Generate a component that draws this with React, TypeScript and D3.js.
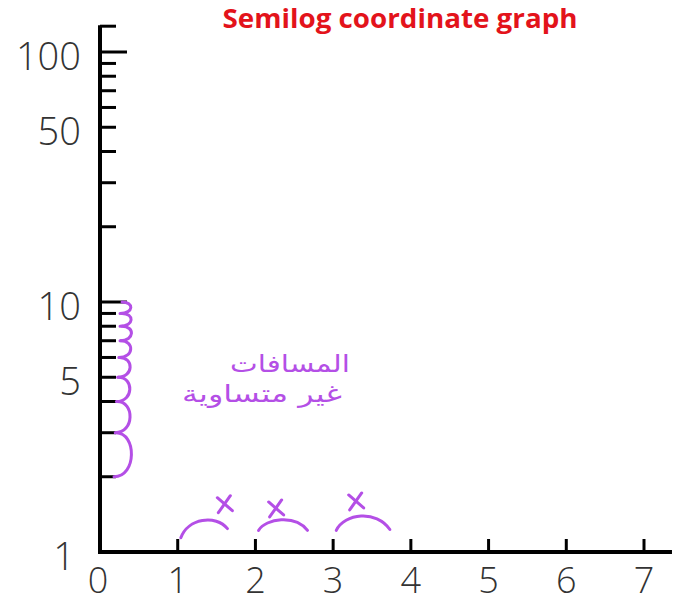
import React from "react";
import * as d3 from "d3";

const titleText = "Semilog coordinate graph";
const xLabelValues = [0, 1, 2, 3, 4, 5, 6, 7];
const xTickValues = [1, 2, 3, 4, 5, 6, 7];
const yLabelValues = [1, 5, 10, 50, 100];
const yMajorTicks = [10, 100];
const yMinorTicks = [2, 3, 4, 5, 6, 7, 8, 9, 20, 30, 40, 50, 60, 70, 80, 90];
const xAxisEnd = 7.36;
const yAxisEnd = 128;
// braces drawn next to the y axis between successive ticks 2..10
const braceStops = [2, 3, 4, 5, 6, 7, 8, 9, 10];
// arcs above the x axis: [start x, end x, start y, peak y, end y]
const xArcs = [
  [1.04, 1.64, 1.14, 1.34, 1.24],
  [2.04, 2.67, 1.22, 1.34, 1.22],
  [3.04, 3.73, 1.22, 1.4, 1.23],
];
// cross marks above the arcs: [x, y]
const xMarks = [
  [1.6, 1.56],
  [2.26, 1.5],
  [3.29, 1.6],
];
const noteLine1 = "المسافات";
const noteLine2 = "غير متساوية";

const W = 680;
const H = 604;

export default function App() {
  const x = d3.scaleLinear().domain([0, 7]).range([100, 644]);
  const y = d3.scaleLog().domain([1, 100]).range([552, 52]);
  const purple = "#b44fe6";
  const labelFont = "'Open Sans', 'DejaVu Sans', sans-serif";

  const bracePaths: string[] = [];
  for (let i = 0; i < braceStops.length - 1; i++) {
    const y0 = y(braceStops[i]);
    const y1 = y(braceStops[i + 1]);
    const dy = y0 - y1;
    const x0 = 114 + Math.min(6, i * 1.2);
    const b = 11 + dy * 0.27;
    const p = d3.path();
    p.moveTo(x0, y0);
    p.bezierCurveTo(x0 + b, y0, x0 + b, y1, x0 + 2, y1);
    bracePaths.push(p.toString());
  }

  return (
    <svg
      width={W}
      height={H}
      style={{ position: "absolute", left: 0, top: 0, background: "#fff" }}
    >
      <rect width={W} height={H} fill="#fff" />
      <text
        x={400}
        y={28}
        textAnchor="middle"
        fontFamily="'Open Sans', sans-serif"
        fontWeight={700}
        fontSize={27}
        fill="#e3131b"
        textLength={355}
        lengthAdjust="spacingAndGlyphs"
      >
        {titleText}
      </text>

      {/* axes */}
      <line x1={x(0)} x2={x(xAxisEnd)} y1={y(1)} y2={y(1)} stroke="#000" strokeWidth={4} />
      <line x1={x(0)} x2={x(0)} y1={y(1) + 2} y2={y(yAxisEnd)} stroke="#000" strokeWidth={4} />
      <line x1={x(0)} x2={x(0) + 16} y1={y(yAxisEnd) + 1} y2={y(yAxisEnd) + 1} stroke="#000" strokeWidth={3} />

      {xTickValues.map((v) => (
        <line key={"xt" + v} x1={x(v)} x2={x(v)} y1={y(1)} y2={y(1) - 13} stroke="#000" strokeWidth={3} />
      ))}
      {yMinorTicks.map((v) => (
        <line key={"ym" + v} x1={x(0)} x2={x(0) + 16} y1={y(v)} y2={y(v)} stroke="#000" strokeWidth={3} />
      ))}
      {yMajorTicks.map((v) => (
        <line key={"yM" + v} x1={x(0)} x2={x(0) + 27} y1={y(v)} y2={y(v)} stroke="#000" strokeWidth={3} />
      ))}

      {xLabelValues.map((v) => (
        <text
          key={"xl" + v}
          x={x(v) - (v === 0 ? 2 : 0)}
          y={593}
          textAnchor="middle"
          fontFamily={labelFont}
          fontWeight={300}
          fontSize={36}
          fill="#333"
        >
          {v}
        </text>
      ))}
      {yLabelValues.map((v) => (
        <text
          key={"yl" + v}
          x={v === 1 ? 75 : 81}
          y={y(v) + 3}
          textAnchor="end"
          dominantBaseline="central"
          fontFamily={labelFont}
          fontWeight={300}
          fontSize={38}
          fill="#333"
        >
          {v}
        </text>
      ))}

      {/* handwritten annotations */}
      <g fill="none" stroke={purple} strokeWidth={3} strokeLinecap="round">
        {bracePaths.map((d, i) => (
          <path key={"br" + i} d={d} />
        ))}
        {xArcs.map((a, i) => {
          const xa = x(a[0]);
          const xb = x(a[1]);
          const ya = y(a[2]);
          const yp = y(a[3]);
          const yb = y(a[4]);
          const p = d3.path();
          p.moveTo(xa, ya);
          p.bezierCurveTo(xa + (xb - xa) * 0.15, yp - 2, xa + (xb - xa) * 0.75, yp - 6, xb, yb);
          return <path key={"xa" + i} d={p.toString()} />;
        })}
        {xMarks.map((m, i) => {
          const cx = x(m[0]);
          const cy = y(m[1]);
          return (
            <g key={"xm" + i}>
              <line x1={cx - 7} y1={cy - 6} x2={cx + 8} y2={cy + 7} />
              <line x1={cx + 6} y1={cy - 8} x2={cx - 6} y2={cy + 9} />
            </g>
          );
        })}
      </g>
      <text
        x={350}
        y={372}
        textAnchor="end"
        fontFamily="'DejaVu Sans', sans-serif"
        fontSize={24}
        fill={purple}
        textLength={120}
        lengthAdjust="spacingAndGlyphs"
      >
        {noteLine1}
      </text>
      <text
        x={342}
        y={402}
        textAnchor="end"
        fontFamily="'DejaVu Sans', sans-serif"
        fontSize={24}
        fill={purple}
        textLength={160}
        lengthAdjust="spacingAndGlyphs"
      >
        {noteLine2}
      </text>
    </svg>
  );
}
